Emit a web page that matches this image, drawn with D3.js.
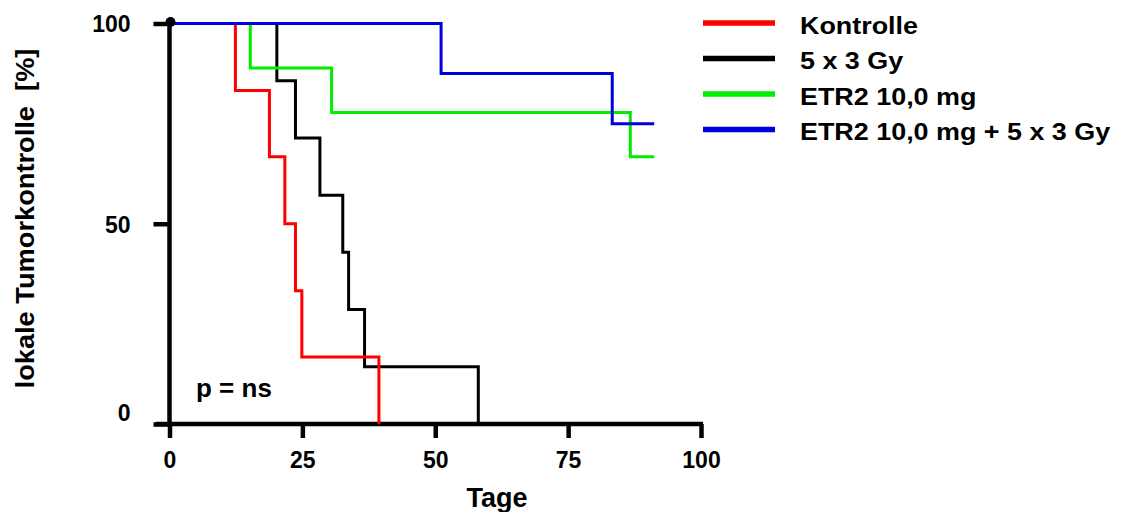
<!DOCTYPE html>
<html>
<head>
<meta charset="utf-8">
<script src="https://cdn.jsdelivr.net/npm/d3@7"></script>
<style>
  body { margin: 0; background: #fff; }
  svg { display: block; font-family: "Liberation Sans", Arial, sans-serif; font-weight: bold; }
</style>
</head>
<body>
<script>
'use strict'
// Kaplan-Meier steps (days, % tumour control)
const groups = ["Kontrolle", "5 x 3 Gy", "ETR2 10,0 mg", "ETR2 10,0 mg + 5 x 3 Gy"];
const colors = ["#ff0000", "#000000", "#00ee00", "#0000dd"];

const kontrolleDays = [0, 12.4, 18.8, 21.7, 23.7, 24.9, 39.4];
const kontrolleSurv = [100, 83.3, 66.7, 50, 33.3, 16.7, 0];

const gyDays = [0, 20.2, 23.7, 28.3, 32.6, 33.7, 36.7, 58.1];
const gySurv = [100, 85.7, 71.4, 57.1, 42.9, 28.6, 14.3, 0];

const etrDays = [0, 15.2, 30.5, 86.7, 91.2];
const etrSurv = [100, 88.9, 77.8, 66.7, 66.7];

const comboDays = [0, 51.1, 83.3, 91.2];
const comboSurv = [100, 87.5, 75, 75];

const xTicks = [0, 25, 50, 75, 100];
const yTicks = [0, 50, 100];

const width = 1121, height = 512;
const svg = d3.select("body").append("svg")
    .attr("width", width)
    .attr("height", height);

const x = d3.scaleLinear().domain([0, 100]).range([169.5, 701]);
const y = d3.scaleLinear().domain([0, 100]).range([424, 23.5]);

const series = [
    [kontrolleDays, kontrolleSurv],
    [gyDays, gySurv],
    [etrDays, etrSurv],
    [comboDays, comboSurv]
].map(function(s, i) {
    return { name: groups[i], color: colors[i], pts: s[0].map(function(d, j) { return [d, s[1][j]]; }) };
});

// axes
const xAxis = svg.append("g")
    .attr("transform", "translate(0," + y(0) + ")")
    .call(d3.axisBottom(x).tickValues(xTicks).tickSize(14).tickPadding(14).tickSizeOuter(0));
xAxis.select(".domain").remove();
xAxis.append("line")
    .attr("x1", 156).attr("x2", 703)
    .attr("stroke", "#000").attr("stroke-width", 4.5);
xAxis.selectAll(".tick line").attr("stroke-width", 4.5);
xAxis.selectAll(".tick text")
    .attr("font-size", 23).attr("font-family", "Liberation Sans, Arial, sans-serif")
    .attr("font-weight", "bold").attr("fill", "#000");

const yAxis = svg.append("g")
    .attr("transform", "translate(" + x(0) + ",0)")
    .call(d3.axisLeft(y).tickValues(yTicks).tickSize(16).tickPadding(23).tickSizeOuter(0));
yAxis.select(".domain").remove();
yAxis.append("line")
    .attr("y1", y(100) - 1).attr("y2", y(0))
    .attr("stroke", "#000").attr("stroke-width", 4.5);
yAxis.selectAll(".tick line").attr("stroke-width", 4.5);
yAxis.selectAll(".tick text")
    .attr("font-size", 23).attr("font-family", "Liberation Sans, Arial, sans-serif")
    .attr("font-weight", "bold").attr("fill", "#000")
    .attr("dy", function(d) { return d === 0 ? "-0.15em" : "0.36em"; });

// curves
const line = d3.line()
    .x(function(d) { return x(d[0]); })
    .y(function(d) { return y(d[1]); })
    .curve(d3.curveStepAfter);

const drawOrder = [1, 0, 2, 3];
svg.selectAll("path.km")
    .data(drawOrder.map(function(i) { return series[i]; }))
    .enter()
    .append("path")
    .attr("class", "km")
    .attr("d", function(d) { return line(d.pts); })
    .attr("fill", "none")
    .attr("stroke", function(d) { return d.color; })
    .attr("stroke-width", 3);

svg.append("circle")
    .attr("cx", x(0) + 1)
    .attr("cy", y(100) - 1.5)
    .attr("r", 5)
    .attr("fill", "#000");

// labels
svg.append("text")
    .attr("transform", "translate(34," + 218.5 + ") rotate(-90) scale(1.09,1)")
    .attr("text-anchor", "middle")
    .attr("font-size", 25)
    .style("white-space", "pre")
    .text("lokale Tumorkontrolle  [%]");

svg.append("text")
    .attr("x", 497)
    .attr("y", 507)
    .attr("text-anchor", "middle")
    .attr("font-size", 27)
    .text("Tage");

svg.append("text")
    .attr("x", 196)
    .attr("y", 397)
    .attr("font-size", 26)
    .text("p = ns");

// legend
const legend = svg.selectAll("g.legend")
    .data(series)
    .enter()
    .append("g")
    .attr("class", "legend")
    .attr("transform", function(d, i) { return "translate(0," + (23 + i * 35.5) + ")"; });

legend.append("line")
    .attr("x1", 703).attr("x2", 775)
    .attr("stroke", function(d) { return d.color; })
    .attr("stroke-width", 5.5);

legend.append("text")
    .attr("transform", "translate(800,10.5) scale(1.17,1)")
    .attr("font-size", 23)
    .text(function(d) { return d.name; });
</script>
</body>
</html>
